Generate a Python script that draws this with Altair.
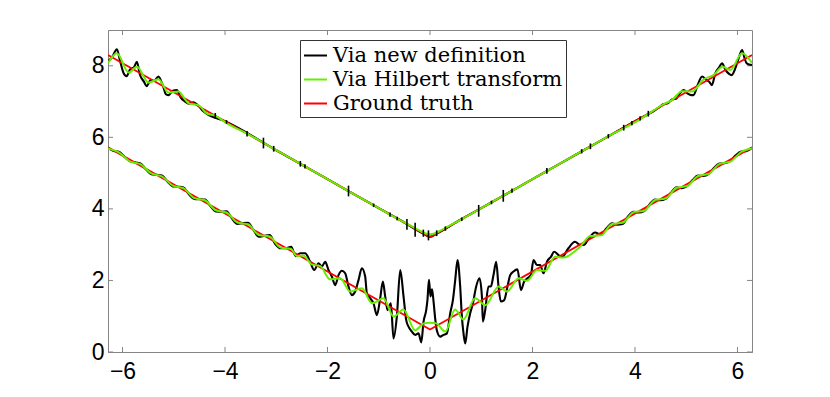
import altair as alt
import pandas as pd

# ---------------- data ----------------
x_ticks = [-6, -4, -2, 0, 2, 4, 6]
y_ticks = [0, 2, 4, 6, 8]
series_names = ["Via new definition", "Via Hilbert transform", "Ground truth"]
series_colors = ["#000000", "#66ee00", "#ff0000"]

# Ground truth (red)
red_up_x = [-6.283, 0.0, 6.283]
red_up_y = [8.30, 3.21, 8.30]
red_lo_x = [-6.283, 0.0, 6.283]
red_lo_y = [5.72, 0.63, 5.72]

# Via Hilbert transform (green), upper branch
green_up_x = [-6.283, -6.11, -5.88, -5.72, -5.49, -5.30, -5.10, -4.91, -4.71, -4.52,
              -4.36, -4.19, -3.97, -3.5, -3.0, -2.0, -1.0, -0.5, -0.25, -0.1, 0.0,
              0.1, 0.25, 0.5, 1.0, 2.0, 3.0, 3.5, 4.10, 4.33, 4.56, 4.72, 4.92, 5.11,
              5.34, 5.53, 5.71, 5.86, 6.09, 6.283]
green_up_y = [8.07, 8.35, 7.81, 7.97, 7.53, 7.62, 7.25, 7.28, 6.95, 6.90,
              6.67, 6.60, 6.40, 6.05, 5.64, 4.83, 4.02, 3.62, 3.43, 3.32, 3.29,
              3.32, 3.43, 3.62, 4.02, 4.83, 5.64, 6.05, 6.50, 6.72, 6.93, 7.04, 7.29, 7.28,
              7.62, 7.74, 7.97, 7.88, 8.35, 8.08]

# Via Hilbert transform (green), lower branch
green_lo_x = [-6.283, -6.07, -5.86, -5.65, -5.44, -5.23, -5.02, -4.81, -4.60, -4.39,
              -4.18, -3.97, -3.76, -3.55, -3.34, -3.13, -2.92, -2.71, -2.60, -2.47,
              -2.31, -2.14, -1.95, -1.75, -1.56, -1.33, -1.13, -0.91, -0.71, -0.52,
              -0.29, -0.12, 0.0, 0.12, 0.30, 0.49, 0.65, 0.88, 1.08, 1.34,
              1.50, 1.73, 1.89, 2.09, 2.25, 2.44, 2.60, 2.92, 3.13, 3.34,
              3.55, 3.76, 3.97, 4.18, 4.39, 4.60, 4.81, 5.02, 5.23, 5.44,
              5.65, 5.86, 6.07, 6.283]
green_lo_y = [5.68, 5.58, 5.33, 5.25, 4.99, 4.91, 4.65, 4.58, 4.30, 4.24,
              3.96, 3.90, 3.62, 3.57, 3.27, 3.23, 2.92, 2.88, 2.68, 2.70,
              2.45, 2.40, 2.03, 2.06, 1.69, 1.78, 1.36, 1.50, 0.99, 1.19,
              0.61, 0.80, 0.82, 0.80, 0.57, 1.19, 0.91, 1.50, 1.31, 1.83,
              1.69, 2.06, 1.99, 2.29, 2.27, 2.66, 2.64, 2.93, 3.24, 3.26,
              3.58, 3.61, 3.91, 3.95, 4.25, 4.29, 4.59, 4.64, 4.92, 4.98,
              5.26, 5.32, 5.59, 5.69]

# Via new definition (black), upper branch
black_up_x = [-6.283, -6.20, -6.11, -6.05, -5.98, -5.92, -5.85, -5.78, -5.72, -5.66,
              -5.58, -5.53, -5.45, -5.38, -5.30, -5.22, -5.15, -5.10, -5.02, -4.94,
              -4.86, -4.78, -4.71, -4.62, -4.52, -4.44, -4.36, -4.0, -3.0, -2.0,
              -1.0, -0.5, -0.25, -0.12, 0.0, 0.12, 0.25, 0.5, 1.0, 2.0,
              3.0, 4.0, 4.40, 4.49, 4.56, 4.64, 4.72, 4.80, 4.87, 4.95,
              5.03, 5.10, 5.14, 5.22, 5.31, 5.38, 5.45, 5.50, 5.57, 5.64,
              5.70, 5.76, 5.83, 5.89, 5.95, 6.02, 6.09, 6.14, 6.18, 6.283]
black_up_y = [8.12, 8.25, 8.46, 8.15, 7.80, 7.71, 7.90, 7.95, 8.11, 7.75,
              7.55, 7.43, 7.60, 7.58, 7.70, 7.48, 7.20, 7.18, 7.30, 7.32,
              7.10, 7.00, 6.94, 6.98, 6.88, 6.75, 6.66, 6.45, 5.64, 4.83,
              4.02, 3.62, 3.40, 3.30, 3.22, 3.30, 3.40, 3.62, 4.02, 4.83,
              5.64, 6.45, 6.77, 6.86, 6.93, 6.95, 7.06, 7.08, 7.22, 7.32,
              7.22, 7.18, 7.18, 7.45, 7.70, 7.62, 7.55, 7.46, 7.80, 7.95,
              8.07, 7.90, 7.78, 7.74, 7.90, 8.20, 8.44, 8.20, 8.07, 8.02]

# short vertical glitches of the black upper branch
spike_x = [-4.19, -3.97, -3.57, -3.25, -3.05, -2.53, -2.44, -1.59, -1.10, -0.78,
           -0.64, -0.45, -0.29, -0.13, -0.03, 0.13, 0.30, 0.62, 0.95, 1.20,
           1.43, 1.60, 2.28, 2.96, 3.13, 3.48, 3.78, 3.94, 4.10, 4.26]
spike_lo = [6.52, 6.38, 6.02, 5.69, 5.60, 5.18, 5.13, 4.35, 4.05, 3.78,
            3.68, 3.42, 3.22, 3.22, 3.12, 3.24, 3.39, 3.66, 3.78, 4.13,
            4.20, 4.45, 4.98, 5.55, 5.67, 5.97, 6.19, 6.34, 6.47, 6.58]
spike_hi = [6.68, 6.48, 6.18, 5.99, 5.76, 5.34, 5.25, 4.65, 4.15, 3.90,
            3.78, 3.72, 3.61, 3.42, 3.40, 3.40, 3.51, 3.76, 4.11, 4.23,
            4.53, 4.57, 5.14, 5.67, 5.83, 6.09, 6.35, 6.46, 6.59, 6.74]

# Via new definition (black), lower branch
black_lo_x = [-6.283, -6.17, -6.07, -5.96, -5.86, -5.75, -5.65, -5.54, -5.44, -5.33,
              -5.23, -5.12, -5.02, -4.91, -4.81, -4.70, -4.60, -4.49, -4.39, -4.28,
              -4.18, -4.07, -3.97, -3.86, -3.76, -3.65, -3.55, -3.44, -3.34, -3.23,
              -3.13, -3.02, -2.92, -2.81, -2.71, -2.62,
              -2.533, -2.435, -2.338, -2.260, -2.175, -2.110, -2.045, -1.980, -1.915, -1.850,
              -1.785, -1.720, -1.655, -1.590, -1.525, -1.460, -1.395, -1.330, -1.265, -1.232,
              -1.167, -1.102, -1.037, -0.972, -0.920, -0.874, -0.829, -0.764, -0.712, -0.647,
              -0.581, -0.516, -0.464, -0.419, -0.354, -0.289, -0.224, -0.170, -0.126, -0.074,
              -0.050, -0.020, 0.010, 0.040, 0.070, 0.100, 0.134, 0.199, 0.264, 0.330,
              0.394, 0.447, 0.492, 0.537, 0.589, 0.622, 0.654, 0.687, 0.732, 0.784,
              0.837, 0.901, 0.966, 1.013, 1.032, 1.077, 1.141, 1.188, 1.239, 1.292,
              1.337, 1.383, 1.448, 1.512, 1.565, 1.629, 1.707, 1.774, 1.838, 1.902,
              1.969, 2.020, 2.086, 2.150, 2.215, 2.281, 2.359, 2.423, 2.507, 2.580,
              2.70, 2.83, 2.92, 3.00, 3.10, 3.22, 3.34, 3.44, 3.55, 3.65,
              3.76, 3.86, 3.97, 4.07, 4.18, 4.28, 4.39, 4.49, 4.60, 4.70,
              4.81, 4.91, 5.02, 5.12, 5.23, 5.33, 5.44, 5.54, 5.65, 5.75,
              5.86, 5.96, 6.07, 6.17, 6.283]
black_lo_y = [5.70, 5.62, 5.60, 5.45, 5.34, 5.30, 5.27, 5.10, 4.97, 4.95,
              4.93, 4.76, 4.63, 4.62, 4.60, 4.40, 4.28, 4.27, 4.26, 4.07,
              3.93, 3.92, 3.93, 3.72, 3.58, 3.60, 3.61, 3.40, 3.22, 3.25,
              3.27, 3.02, 2.90, 2.90, 2.94, 2.68,
              2.76, 2.76, 2.52, 2.29, 2.48, 2.39, 2.52, 2.29, 2.11, 1.87,
              2.15, 2.27, 2.20, 1.83, 1.59, 1.69, 2.01, 2.34, 2.11, 1.64,
              1.50, 1.36, 1.03, 1.50, 1.97, 1.55, 1.17, 1.36, 0.38, 0.99,
              2.29, 1.55, 0.89, 0.71, 0.57, 0.48, 0.52, 0.27, 0.85, 1.17,
              1.45, 2.02, 1.55, 1.75, 1.40, 0.95, 0.60, 0.43, 0.48, 0.52,
              1.08, 1.45, 2.01, 2.57, 1.83, 0.99, 0.52, 0.24, 0.71, 1.08,
              1.36, 1.83, 2.06, 1.55, 0.85, 1.17, 1.83, 1.83, 2.15, 2.52,
              1.83, 1.41, 1.45, 1.83, 2.15, 2.25, 2.31, 1.73, 1.97, 2.06,
              2.15, 2.57, 2.43, 2.43, 2.20, 2.52, 2.66, 2.80, 2.71, 2.66,
              2.90, 3.08, 3.00, 2.99, 3.18, 3.34, 3.28, 3.45, 3.60, 3.56,
              3.58, 3.78, 3.92, 3.90, 3.94, 4.12, 4.26, 4.24, 4.28, 4.45,
              4.60, 4.58, 4.64, 4.80, 4.93, 4.92, 4.98, 5.14, 5.27, 5.28,
              5.34, 5.49, 5.60, 5.61, 5.70]

# ---------------- chart ----------------
W, H = 644, 322
GRAY = "#858585"


def frame(xs, ys, series, branch):
    return pd.DataFrame({"x": xs, "y": ys, "series": series, "branch": branch,
                         "i": list(range(len(xs)))})


xscale = alt.Scale(domain=[-6.2832, 6.2832], nice=False, zero=False)
yscale = alt.Scale(domain=[0, 9], nice=False, zero=False)
axis_common = dict(tickSize=0, grid=False, domainColor=GRAY, domainWidth=1,
                   labelFont="Liberation Sans", labelFontSize=23, labelColor="black")
X = alt.X("x:Q", scale=xscale, title=None,
          axis=alt.Axis(values=x_ticks, labelPadding=8, **axis_common))
Y = alt.Y("y:Q", scale=yscale, title=None,
          axis=alt.Axis(values=y_ticks, labelPadding=4, **axis_common))

color = alt.Color("series:N",
                  scale=alt.Scale(domain=series_names, range=series_colors),
                  legend=alt.Legend(title=None, orient="none", legendX=192, legendY=10,
                                    labelFont="DejaVu Serif", labelFontSize=21,
                                    labelColor="black", labelLimit=500, symbolType="stroke",
                                    symbolSize=529, symbolStrokeWidth=2,
                                    labelOffset=5, padding=3, rowPadding=1,
                                    strokeColor="#333333", fillColor="white"))

black_df = pd.concat([frame(black_up_x, black_up_y, series_names[0], "up"),
                      frame(black_lo_x, black_lo_y, series_names[0], "lo")])
green_df = pd.concat([frame(green_up_x, green_up_y, series_names[1], "up"),
                      frame(green_lo_x, green_lo_y, series_names[1], "lo")])
red_df = pd.concat([frame(red_up_x, red_up_y, series_names[2], "up"),
                    frame(red_lo_x, red_lo_y, series_names[2], "lo")])
spike_df = pd.DataFrame({"x": spike_x, "y": spike_lo, "y2": spike_hi})

black = alt.Chart(black_df).mark_line(strokeWidth=2.1, interpolate="monotone", clip=True).encode(
    x=X, y=Y, color=color, detail="branch:N", order="i:Q")
spikes = alt.Chart(spike_df).mark_rule(strokeWidth=1.6, color="black", clip=True).encode(
    x=X, y=Y, y2="y2:Q")
red = alt.Chart(red_df).mark_line(strokeWidth=1.8, clip=True).encode(
    x=X, y=Y, color=color, detail="branch:N", order="i:Q")
green = alt.Chart(green_df).mark_line(strokeWidth=2, interpolate="monotone", clip=True).encode(
    x=X, y=Y, color=color, detail="branch:N", order="i:Q")

xt_df = pd.DataFrame({"x": x_ticks})
yt_df = pd.DataFrame({"y": y_ticks})
tick_bottom = alt.Chart(xt_df).mark_rule(color=GRAY).encode(
    x=X, y=alt.value(H), y2=alt.value(H - 5))
tick_top = alt.Chart(xt_df).mark_rule(color=GRAY).encode(
    x=X, y=alt.value(0), y2=alt.value(5))
tick_left = alt.Chart(yt_df).mark_rule(color=GRAY).encode(
    y=Y, x=alt.value(0), x2=alt.value(5))
tick_right = alt.Chart(yt_df).mark_rule(color=GRAY).encode(
    y=Y, x=alt.value(W), x2=alt.value(W - 5))

chart = alt.layer(tick_bottom, tick_top, tick_left, tick_right,
                  black, red, green, spikes).properties(
    width=W, height=H,
    autosize=alt.AutoSizeParams(type="none"),
    padding={"left": 100, "top": 22, "right": 70, "bottom": 37},
    background="white",
).configure_view(stroke=GRAY, strokeWidth=1)

chart.save("out.html", embed_options={"renderer": "svg", "actions": False})
